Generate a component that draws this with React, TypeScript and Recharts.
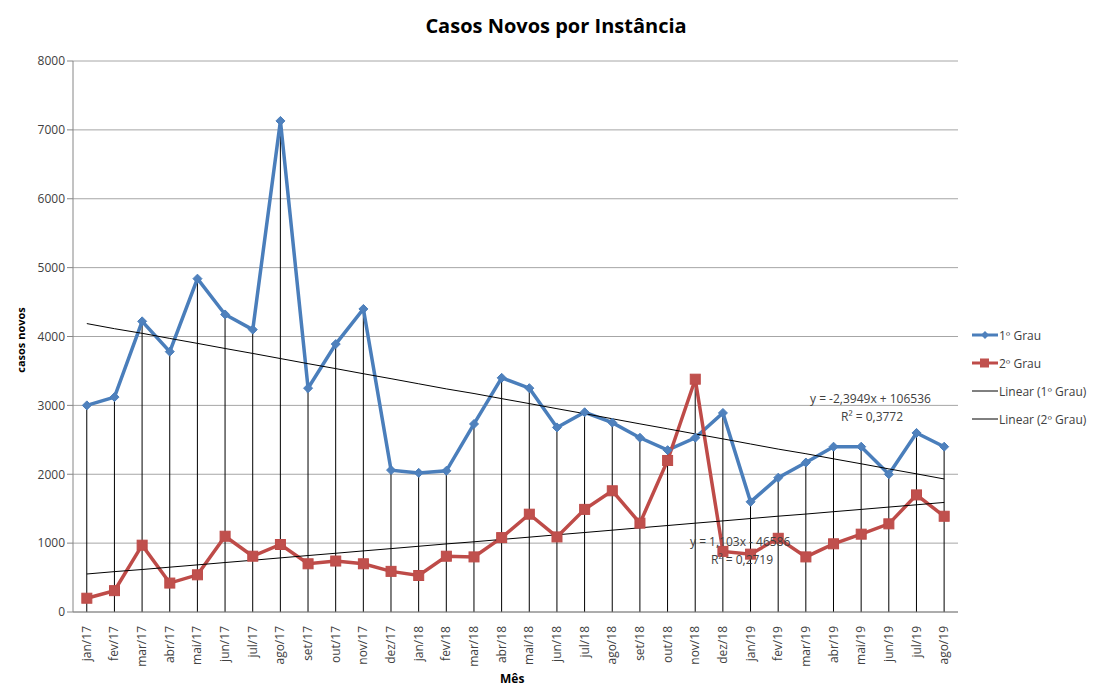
import { ComposedChart, Line, Bar, XAxis, YAxis, CartesianGrid } from "recharts";

const months = [
  "jan/17", "fev/17", "mar/17", "abr/17", "mai/17", "jun/17", "jul/17", "ago/17",
  "set/17", "out/17", "nov/17", "dez/17", "jan/18", "fev/18", "mar/18", "abr/18",
  "mai/18", "jun/18", "jul/18", "ago/18", "set/18", "out/18", "nov/18", "dez/18",
  "jan/19", "fev/19", "mar/19", "abr/19", "mai/19", "jun/19", "jul/19", "ago/19",
];

const primeiroGrau = [
  3000, 3120, 4220, 3780, 4840, 4320, 4100, 7130, 3250, 3890, 4400, 2060, 2020, 2050,
  2730, 3400, 3250, 2680, 2900, 2750, 2530, 2350, 2530, 2890, 1600, 1950, 2170, 2400,
  2400, 2000, 2600, 2400,
];

const segundoGrau = [
  200, 310, 970, 420, 540, 1100, 810, 980, 700, 740, 700, 590, 530, 810, 800, 1080,
  1420, 1090, 1490, 1760, 1290, 2200, 3380, 880, 840, 1070, 800, 990, 1130, 1280, 1700,
  1390,
];

const yTicks = [0, 1000, 2000, 3000, 4000, 5000, 6000, 7000, 8000];

// Excel trendline equations printed on the chart (x = Excel date serial)
const trend1 = { slope: -2.3949, intercept: 106536 };
const trend2 = { slope: 1.103, intercept: -46586 };

const monthIndex: Record<string, number> = {
  jan: 0, fev: 1, mar: 2, abr: 3, mai: 4, jun: 5, jul: 6, ago: 7, set: 8, out: 9, nov: 10, dez: 11,
};

function excelSerial(label: string) {
  const [m, y] = label.split("/");
  const ms = Date.UTC(2000 + Number(y), monthIndex[m], 1) - Date.UTC(1899, 11, 30);
  return ms / 86400000;
}

const data = months.map((mes, i) => {
  const s = excelSerial(mes);
  return {
    mes,
    g1: primeiroGrau[i],
    g2: segundoGrau[i],
    drop: Math.max(primeiroGrau[i], segundoGrau[i]),
    t1: trend1.slope * s + trend1.intercept,
    t2: trend2.slope * s + trend2.intercept,
  };
});

const BLUE = "#4A7EBB";
const BLUE_M = "#4F81BD";
const RED = "#BE4B48";
const RED_M = "#C0504D";
const FONT = "'Open Sans', 'DejaVu Sans', sans-serif";
const TXT = "#404040";

function Diamond(props: any) {
  const { cx, cy } = props;
  if (cx == null || cy == null) return null;
  const r = 4.5;
  return (
    <path
      d={`M${cx},${cy - r}L${cx + r},${cy}L${cx},${cy + r}L${cx - r},${cy}Z`}
      fill={BLUE_M}
      stroke={BLUE}
      strokeWidth={1}
    />
  );
}

function Square(props: any) {
  const { cx, cy } = props;
  if (cx == null || cy == null) return null;
  const r = 5;
  return <rect x={cx - r} y={cy - r} width={2 * r} height={2 * r} fill={RED_M} stroke={RED} strokeWidth={1} />;
}

function DropLine(props: any) {
  const { x, y, width, height } = props;
  if (x == null) return null;
  const cx = x + width / 2;
  return <line x1={cx} x2={cx} y1={y} y2={y + height} stroke="#000" strokeWidth={1} />;
}

function MonthTick(props: any) {
  const { x, y, payload } = props;
  return (
    <text
      x={x}
      y={y}
      transform={`rotate(-90, ${x}, ${y})`}
      dx={-6}
      dy={4}
      textAnchor="end"
      fill={TXT}
      fontSize={12}
      fontFamily={FONT}
    >
      {payload.value}
    </text>
  );
}

function LegendItem({ kind, label }: { kind: "d" | "s" | "l"; label: string }) {
  const color = kind === "d" ? BLUE : kind === "s" ? RED : "#000";
  return (
    <div style={{ display: "flex", alignItems: "center", height: 28 }}>
      <svg width={26} height={12}>
        <line x1={0} x2={26} y1={6} y2={6} stroke={color} strokeWidth={kind === "l" ? 1 : 3} />
        {kind === "d" && <path d="M13,2L17,6L13,10L9,6Z" fill={BLUE_M} />}
        {kind === "s" && <rect x={8} y={1.5} width={9} height={9} fill={RED_M} />}
      </svg>
      <span style={{ marginLeft: 1 }}>{label}</span>
    </div>
  );
}

export default function App() {
  return (
    <div
      style={{
        position: "absolute",
        left: 0,
        top: 0,
        width: 1112,
        height: 688,
        background: "#fff",
        fontFamily: FONT,
        color: TXT,
      }}
    >
      <div
        style={{
          position: "absolute",
          top: 12,
          left: 0,
          width: 1112,
          textAlign: "center",
          fontSize: 20,
          fontWeight: 700,
          color: "#000",
        }}
      >
        Casos Novos por Instância
      </div>
      <div
        style={{
          position: "absolute",
          left: 20,
          top: 340,
          transform: "translate(-50%, -50%) rotate(-90deg)",
          fontSize: 11,
          fontWeight: 700,
          whiteSpace: "nowrap",
          color: "#000",
        }}
      >
        casos novos
      </div>
      <div
        style={{ position: "absolute", left: 500, top: 670, fontSize: 12, fontWeight: 700, color: "#000" }}
      >
        Mês
      </div>

      <ComposedChart
        width={1112}
        height={688}
        data={data}
        margin={{ top: 61, right: 154, left: 0, bottom: 16 }}
        style={{ position: "absolute", left: 0, top: 0 }}
      >
        <CartesianGrid vertical={false} stroke="#a6a6a6" strokeWidth={1} />
        <XAxis
          dataKey="mes"
          interval={0}
          height={60}
          tick={<MonthTick />}
          tickLine={false}
          axisLine={{ stroke: "#868686" }}
        />
        <YAxis
          domain={[0, 8000]}
          ticks={yTicks}
          width={73}
          tickSize={6}
          tick={{ fill: TXT, fontSize: 12, fontFamily: FONT }}
          tickLine={{ stroke: "#868686" }}
          axisLine={{ stroke: "#868686" }}
        />
        <Line
          type="linear"
          dataKey="g1"
          stroke={BLUE}
          strokeWidth={3.5}
          dot={<Diamond />}
          activeDot={false}
          isAnimationActive={false}
        />
        <Line
          type="linear"
          dataKey="g2"
          stroke={RED}
          strokeWidth={3.5}
          dot={<Square />}
          activeDot={false}
          isAnimationActive={false}
        />
        <Line type="linear" dataKey="t1" stroke="#000" strokeWidth={1} dot={false} activeDot={false} isAnimationActive={false} />
        <Line type="linear" dataKey="t2" stroke="#000" strokeWidth={1} dot={false} activeDot={false} isAnimationActive={false} />
        <Bar dataKey="drop" shape={<DropLine />} isAnimationActive={false} />
      </ComposedChart>

      <div style={{ position: "absolute", left: 810, top: 390, fontSize: 12, whiteSpace: "nowrap" }}>
        y = -2,3949x + 106536
      </div>
      <div style={{ position: "absolute", left: 841, top: 408, fontSize: 12, whiteSpace: "nowrap" }}>
        R² = 0,3772
      </div>
      <div style={{ position: "absolute", left: 690, top: 533, fontSize: 12, whiteSpace: "nowrap" }}>
        y = 1,103x - 46586
      </div>
      <div style={{ position: "absolute", left: 711, top: 551, fontSize: 12, whiteSpace: "nowrap" }}>
        R² = 0,2719
      </div>

      <div style={{ position: "absolute", left: 972, top: 321, fontSize: 12, color: TXT }}>
        <LegendItem kind="d" label="1º Grau" />
        <LegendItem kind="s" label="2º Grau" />
        <LegendItem kind="l" label="Linear (1º Grau)" />
        <LegendItem kind="l" label="Linear (2º Grau)" />
      </div>
    </div>
  );
}
